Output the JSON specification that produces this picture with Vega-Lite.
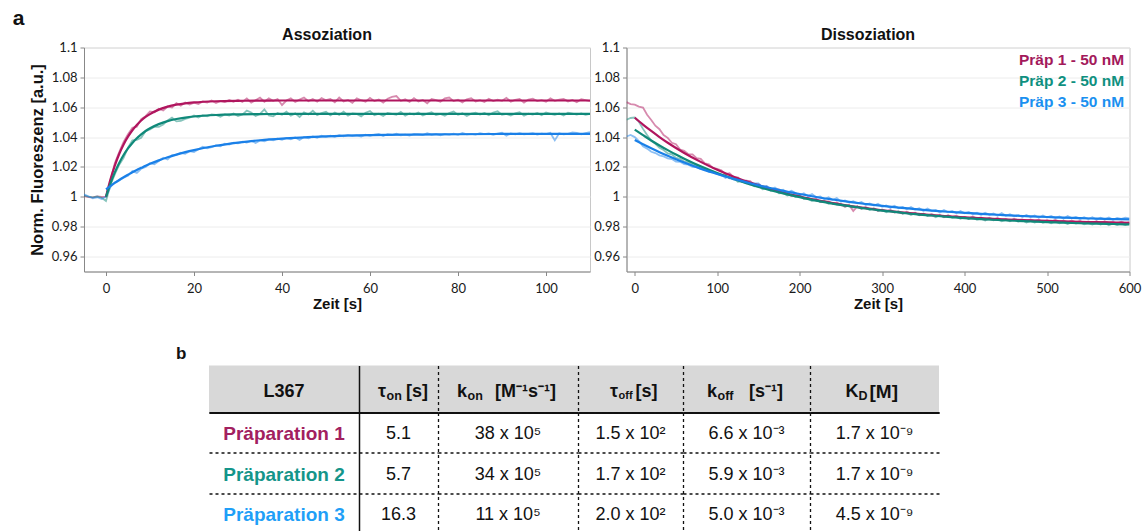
{
"$schema": "https://vega.github.io/schema/vega-lite/v6.json",
"background": "white",
"padding": {"left": 12, "top": 7.5, "right": 0, "bottom": -3},
"config": {
  "font": "Liberation Sans",
  "view": {"stroke": "#c8c8c8"},
  "axis": {"labelFont": "Lato", "labelFontSize": 13, "labelColor": "#1a1a1a", "titleFont": "Liberation Sans", "titleFontWeight": "bold", "titleColor": "#111111", "domainColor": "#888888", "tickColor": "#888888", "tickSize": 4, "gridColor": "#ececec", "labelPadding": 3},
  "axisX": {"labelPadding": 6.5, "titlePadding": 1, "titleFontSize": 15, "labelFlush": false},
  "axisY": {"titlePadding": 6, "titleFontSize": 16.5},
  "title": {"font": "Liberation Sans", "fontSize": 16, "fontWeight": "bold", "color": "#111111", "offset": -1.7}
},
"datasets": {
  "series": [{"k":"a","name":"Präp 1 - 50 nM"},{"k":"b","name":"Präp 2 - 50 nM"},{"k":"c","name":"Präp 3 - 50 nM"}],
  "ar": [
    {"t":-5,"a":1.0005,"b":1.0008,"c":1.0016},{"t":-4,"a":0.9998,"b":1.0001,"c":1.0004},{"t":-3,"a":0.9996,"b":0.9997,"c":0.9990},{"t":-2,"a":1.0003,"b":1.0002,"c":0.9997},{"t":-1,"a":0.9999,"b":0.9994,"c":0.9986},{"t":0,"a":1.0001,"b":0.9972,"c":1.0002},
    {"t":1,"a":1.0105,"b":1.0078,"c":1.0065},{"t":2,"a":1.0225,"b":1.0150,"c":1.0098},{"t":3,"a":1.0300,"b":1.0215,"c":1.0110},{"t":4,"a":1.0368,"b":1.0262,"c":1.0128},{"t":5,"a":1.0420,"b":1.0330,"c":1.0141},{"t":6,"a":1.0462,"b":1.0378,"c":1.0172},{"t":7,"a":1.0470,"b":1.0382,"c":1.0160},{"t":8,"a":1.0521,"b":1.0395,"c":1.0188},{"t":9,"a":1.0540,"b":1.0440,"c":1.0200},{"t":10,"a":1.0572,"b":1.0452,"c":1.0225},
    {"t":11,"a":1.0566,"b":1.0470,"c":1.0218},{"t":12,"a":1.0590,"b":1.0468,"c":1.0240},{"t":13,"a":1.0578,"b":1.0485,"c":1.0262},{"t":14,"a":1.0605,"b":1.0512,"c":1.0250},{"t":15,"a":1.0598,"b":1.0530,"c":1.0279},{"t":16,"a":1.0628,"b":1.0505,"c":1.0281},{"t":17,"a":1.0610,"b":1.0508,"c":1.0295},{"t":18,"a":1.0632,"b":1.0522,"c":1.0288},{"t":19,"a":1.0618,"b":1.0530,"c":1.0306},{"t":20,"a":1.0630,"b":1.0545,"c":1.0300},
    {"t":21,"a":1.0622,"b":1.0532,"c":1.0318},{"t":22,"a":1.0638,"b":1.0546,"c":1.0335},{"t":23,"a":1.0631,"b":1.0540,"c":1.0325},{"t":24,"a":1.0645,"b":1.0552,"c":1.0332},{"t":25,"a":1.0628,"b":1.0548,"c":1.0345},{"t":26,"a":1.0642,"b":1.0536,"c":1.0339},{"t":27,"a":1.0635,"b":1.0552,"c":1.0356},{"t":28,"a":1.0648,"b":1.0545,"c":1.0350},{"t":29,"a":1.0637,"b":1.0558,"c":1.0362},{"t":30,"a":1.0650,"b":1.0541,"c":1.0358},
    {"t":31,"a":1.0635,"b":1.0551,"c":1.0370},{"t":32,"a":1.0659,"b":1.0577,"c":1.0364},{"t":33,"a":1.0631,"b":1.0565,"c":1.0376},{"t":34,"a":1.0647,"b":1.0541,"c":1.0360},{"t":35,"a":1.0665,"b":1.0555,"c":1.0378},{"t":36,"a":1.0637,"b":1.0585,"c":1.0372},{"t":37,"a":1.0659,"b":1.0545,"c":1.0385},{"t":38,"a":1.0643,"b":1.0539,"c":1.0378},{"t":39,"a":1.0655,"b":1.0561,"c":1.0390},{"t":40,"a":1.0615,"b":1.0549,"c":1.0382},
    {"t":41,"a":1.0645,"b":1.0571,"c":1.0395},{"t":42,"a":1.0659,"b":1.0543,"c":1.0386},{"t":43,"a":1.0635,"b":1.0559,"c":1.0398},{"t":44,"a":1.0651,"b":1.0535,"c":1.0381},{"t":45,"a":1.0665,"b":1.0565,"c":1.0400},{"t":46,"a":1.0641,"b":1.0551,"c":1.0392},{"t":47,"a":1.0655,"b":1.0577,"c":1.0405},{"t":48,"a":1.0637,"b":1.0547,"c":1.0396},{"t":49,"a":1.0661,"b":1.0561,"c":1.0409},{"t":50,"a":1.0647,"b":1.0569,"c":1.0402},
    {"t":51,"a":1.0655,"b":1.0545,"c":1.0410},{"t":52,"a":1.0633,"b":1.0565,"c":1.0402},{"t":53,"a":1.0665,"b":1.0549,"c":1.0413},{"t":54,"a":1.0639,"b":1.0571,"c":1.0405},{"t":55,"a":1.0649,"b":1.0543,"c":1.0415},{"t":56,"a":1.0629,"b":1.0559,"c":1.0407},{"t":57,"a":1.0659,"b":1.0555,"c":1.0412},{"t":58,"a":1.0647,"b":1.0539,"c":1.0404},{"t":59,"a":1.0637,"b":1.0563,"c":1.0416},{"t":60,"a":1.0663,"b":1.0575,"c":1.0408},
    {"t":61,"a":1.0641,"b":1.0547,"c":1.0417},{"t":62,"a":1.0651,"b":1.0557,"c":1.0421},{"t":63,"a":1.0631,"b":1.0541,"c":1.0407},{"t":64,"a":1.0657,"b":1.0561,"c":1.0419},{"t":65,"a":1.0669,"b":1.0555,"c":1.0414},{"t":66,"a":1.0675,"b":1.0549,"c":1.0422},{"t":67,"a":1.0643,"b":1.0569,"c":1.0412},{"t":68,"a":1.0653,"b":1.0543,"c":1.0417},{"t":69,"a":1.0635,"b":1.0559,"c":1.0410},{"t":70,"a":1.0661,"b":1.0551,"c":1.0421},
    {"t":71,"a":1.0639,"b":1.0565,"c":1.0419},{"t":72,"a":1.0649,"b":1.0545,"c":1.0414},{"t":73,"a":1.0627,"b":1.0557,"c":1.0426},{"t":74,"a":1.0655,"b":1.0567,"c":1.0416},{"t":75,"a":1.0647,"b":1.0547,"c":1.0421},{"t":76,"a":1.0637,"b":1.0555,"c":1.0412},{"t":77,"a":1.0659,"b":1.0543,"c":1.0422},{"t":78,"a":1.0665,"b":1.0561,"c":1.0417},{"t":79,"a":1.0641,"b":1.0571,"c":1.0423},{"t":80,"a":1.0651,"b":1.0549,"c":1.0415},
    {"t":81,"a":1.0633,"b":1.0559,"c":1.0428},{"t":82,"a":1.0653,"b":1.0541,"c":1.0419},{"t":83,"a":1.0661,"b":1.0557,"c":1.0422},{"t":84,"a":1.0639,"b":1.0563,"c":1.0417},{"t":85,"a":1.0647,"b":1.0551,"c":1.0427},{"t":86,"a":1.0635,"b":1.0561,"c":1.0420},{"t":87,"a":1.0657,"b":1.0547,"c":1.0424},{"t":88,"a":1.0641,"b":1.0565,"c":1.0416},{"t":89,"a":1.0651,"b":1.0573,"c":1.0423},{"t":90,"a":1.0643,"b":1.0549,"c":1.0429},
    {"t":91,"a":1.0663,"b":1.0555,"c":1.0409},{"t":92,"a":1.0637,"b":1.0545,"c":1.0425},{"t":93,"a":1.0649,"b":1.0559,"c":1.0419},{"t":94,"a":1.0655,"b":1.0567,"c":1.0427},{"t":95,"a":1.0631,"b":1.0543,"c":1.0418},{"t":96,"a":1.0651,"b":1.0557,"c":1.0422},{"t":97,"a":1.0657,"b":1.0551,"c":1.0426},{"t":98,"a":1.0641,"b":1.0561,"c":1.0417},{"t":99,"a":1.0647,"b":1.0547,"c":1.0423},{"t":100,"a":1.0637,"b":1.0565,"c":1.0420},
    {"t":101,"a":1.0659,"b":1.0555,"c":1.0428},{"t":102,"a":1.0643,"b":1.0549,"c":1.0378},{"t":103,"a":1.0651,"b":1.0559,"c":1.0425},{"t":104,"a":1.0655,"b":1.0545,"c":1.0419},{"t":105,"a":1.0639,"b":1.0563,"c":1.0422},{"t":106,"a":1.0649,"b":1.0557,"c":1.0431},{"t":107,"a":1.0633,"b":1.0551,"c":1.0429},{"t":108,"a":1.0653,"b":1.0559,"c":1.0418},{"t":109,"a":1.0647,"b":1.0549,"c":1.0426},{"t":110,"a":1.0641,"b":1.0555,"c":1.0433}
  ],
  "af": [
    {"t":0,"a":1.0000,"b":1.0000,"c":1.0050},{"t":1,"a":1.0115,"b":1.0089,"c":1.0072},{"t":2,"a":1.0209,"b":1.0164,"c":1.0093},{"t":3,"a":1.0287,"b":1.0227,"c":1.0113},{"t":4,"a":1.0351,"b":1.0280,"c":1.0131},{"t":5,"a":1.0403,"b":1.0324,"c":1.0148},{"t":6,"a":1.0446,"b":1.0361,"c":1.0165},{"t":7,"a":1.0481,"b":1.0392,"c":1.0180},{"t":8,"a":1.0511,"b":1.0418,"c":1.0194},{"t":9,"a":1.0535,"b":1.0441,"c":1.0208},{"t":10,"a":1.0554,"b":1.0459,"c":1.0221},
    {"t":12,"a":1.0584,"b":1.0487,"c":1.0244},{"t":14,"a":1.0604,"b":1.0507,"c":1.0265},{"t":16,"a":1.0617,"b":1.0521,"c":1.0283},{"t":18,"a":1.0626,"b":1.0531,"c":1.0299},{"t":20,"a":1.0632,"b":1.0538,"c":1.0313},{"t":25,"a":1.0640,"b":1.0548,"c":1.0342},{"t":30,"a":1.0643,"b":1.0552,"c":1.0363},{"t":35,"a":1.0644,"b":1.0554,"c":1.0379},{"t":40,"a":1.0645,"b":1.0555,"c":1.0390},{"t":45,"a":1.0645,"b":1.0555,"c":1.0398},{"t":50,"a":1.0645,"b":1.0555,"c":1.0405},
    {"t":60,"a":1.0645,"b":1.0555,"c":1.0413},{"t":70,"a":1.0645,"b":1.0555,"c":1.0417},{"t":80,"a":1.0645,"b":1.0555,"c":1.0419},{"t":90,"a":1.0645,"b":1.0555,"c":1.0421},{"t":100,"a":1.0645,"b":1.0555,"c":1.0421},{"t":110,"a":1.0645,"b":1.0555,"c":1.0422}
  ],
  "dr": [
    {"t":-10,"a":1.0634,"b":1.0516,"c":1.0404},{"t":-5,"a":1.0621,"b":1.0528,"c":1.0414},{"t":0,"a":1.0617,"b":1.0531,"c":1.0400},{"t":5,"a":1.0604,"b":1.0503,"c":1.0374},{"t":10,"a":1.0598,"b":1.0455,"c":1.0338},{"t":15,"a":1.0550,"b":1.0414,"c":1.0323},{"t":20,"a":1.0515,"b":1.0375,"c":1.0302},{"t":25,"a":1.0476,"b":1.0355,"c":1.0293},{"t":30,"a":1.0453,"b":1.0328,"c":1.0278},{"t":35,"a":1.0414,"b":1.0314,"c":1.0271},{"t":40,"a":1.0395,"b":1.0291,"c":1.0258},{"t":45,"a":1.0362,"b":1.0284,"c":1.0253},{"t":50,"a":1.0352,"b":1.0261,"c":1.0236},{"t":55,"a":1.0317,"b":1.0255,"c":1.0235},{"t":60,"a":1.0309,"b":1.0236,"c":1.0219},{"t":65,"a":1.0286,"b":1.0231,"c":1.0215},{"t":70,"a":1.0284,"b":1.0214,"c":1.0201},{"t":75,"a":1.0259,"b":1.0210,"c":1.0199},{"t":80,"a":1.0254,"b":1.0192,"c":1.0186},{"t":85,"a":1.0224,"b":1.0189,"c":1.0183},{"t":90,"a":1.0218,"b":1.0172,"c":1.0168},{"t":95,"a":1.0192,"b":1.0169,"c":1.0166},{"t":100,"a":1.0188,"b":1.0155,"c":1.0152},
    {"t":105,"a":1.0177,"b":1.0142,"c":1.0149},{"t":110,"a":1.0152,"b":1.0147,"c":1.0127},{"t":115,"a":1.0158,"b":1.0124,"c":1.0138},{"t":120,"a":1.0132,"b":1.0126,"c":1.0114},{"t":125,"a":1.0131,"b":1.0101,"c":1.0125},{"t":130,"a":1.0105,"b":1.0105,"c":1.0101},{"t":135,"a":1.0109,"b":1.0090,"c":1.0108},{"t":140,"a":1.0106,"b":1.0091,"c":1.0084},{"t":145,"a":1.0080,"b":1.0070,"c":1.0090},{"t":150,"a":1.0084,"b":1.0077,"c":1.0090},
    {"t":155,"a":1.0066,"b":1.0051,"c":1.0065},{"t":160,"a":1.0069,"b":1.0055,"c":1.0072},{"t":165,"a":1.0044,"b":1.0041,"c":1.0049},{"t":170,"a":1.0049,"b":1.0045,"c":1.0062},{"t":175,"a":1.0049,"b":1.0023,"c":1.0042},{"t":180,"a":1.0025,"b":1.0026,"c":1.0047},{"t":185,"a":1.0028,"b":1.0008,"c":1.0028},{"t":190,"a":1.0005,"b":1.0016,"c":1.0041},{"t":195,"a":1.0011,"b":0.9999,"c":1.0025},{"t":200,"a":1.0010,"b":1.0005,"c":1.0011},
    {"t":205,"a":0.9989,"b":0.9987,"c":1.0024},{"t":210,"a":0.9994,"b":0.9988,"c":1.0005},{"t":215,"a":0.9981,"b":0.9972,"c":1.0018},{"t":220,"a":0.9988,"b":0.9980,"c":0.9997},{"t":225,"a":0.9965,"b":0.9967,"c":1.0003},{"t":230,"a":0.9970,"b":0.9973,"c":0.9984},{"t":235,"a":0.9970,"b":0.9954,"c":0.9997},{"t":240,"a":0.9953,"b":0.9959,"c":0.9979},{"t":245,"a":0.9962,"b":0.9948,"c":0.9992},{"t":250,"a":0.9946,"b":0.9954,"c":0.9968},
    {"t":255,"a":0.9933,"b":0.9935,"c":0.9975},{"t":260,"a":0.9946,"b":0.9941,"c":0.9962},{"t":265,"a":0.9905,"b":0.9929,"c":0.9971},{"t":270,"a":0.9936,"b":0.9936,"c":0.9957},{"t":275,"a":0.9922,"b":0.9918,"c":0.9965},{"t":280,"a":0.9932,"b":0.9926,"c":0.9946},{"t":285,"a":0.9917,"b":0.9912,"c":0.9956},{"t":290,"a":0.9922,"b":0.9922,"c":0.9942},{"t":295,"a":0.9905,"b":0.9907,"c":0.9954},{"t":300,"a":0.9916,"b":0.9911,"c":0.9934},
    {"t":305,"a":0.9903,"b":0.9896,"c":0.9942},{"t":310,"a":0.9913,"b":0.9907,"c":0.9926},{"t":315,"a":0.9895,"b":0.9896,"c":0.9940},{"t":320,"a":0.9901,"b":0.9904,"c":0.9924},{"t":325,"a":0.9888,"b":0.9887,"c":0.9932},{"t":330,"a":0.9900,"b":0.9893,"c":0.9917},{"t":335,"a":0.9888,"b":0.9879,"c":0.9931},{"t":340,"a":0.9893,"b":0.9890,"c":0.9915},{"t":345,"a":0.9876,"b":0.9878,"c":0.9924},{"t":350,"a":0.9887,"b":0.9887,"c":0.9906},
    {"t":355,"a":0.9875,"b":0.9871,"c":0.9921},{"t":360,"a":0.9885,"b":0.9878,"c":0.9906},{"t":365,"a":0.9873,"b":0.9864,"c":0.9912},{"t":370,"a":0.9879,"b":0.9876,"c":0.9896},{"t":375,"a":0.9864,"b":0.9865,"c":0.9911},{"t":380,"a":0.9876,"b":0.9874,"c":0.9896},{"t":385,"a":0.9864,"b":0.9859,"c":0.9905},{"t":390,"a":0.9874,"b":0.9866,"c":0.9890},{"t":395,"a":0.9859,"b":0.9853,"c":0.9905},{"t":400,"a":0.9866,"b":0.9864,"c":0.9890},
    {"t":405,"a":0.9854,"b":0.9852,"c":0.9899},{"t":410,"a":0.9869,"b":0.9862,"c":0.9884},{"t":415,"a":0.9855,"b":0.9846,"c":0.9893},{"t":420,"a":0.9862,"b":0.9854,"c":0.9879},{"t":425,"a":0.9847,"b":0.9841,"c":0.9893},{"t":430,"a":0.9860,"b":0.9853,"c":0.9879},{"t":435,"a":0.9848,"b":0.9843,"c":0.9888},{"t":440,"a":0.9858,"b":0.9851,"c":0.9874},{"t":445,"a":0.9845,"b":0.9837,"c":0.9892},{"t":450,"a":0.9852,"b":0.9846,"c":0.9873},
    {"t":455,"a":0.9840,"b":0.9836,"c":0.9883},{"t":460,"a":0.9854,"b":0.9848,"c":0.9869},{"t":465,"a":0.9842,"b":0.9834,"c":0.9879},{"t":470,"a":0.9849,"b":0.9843,"c":0.9865},{"t":475,"a":0.9837,"b":0.9828,"c":0.9879},{"t":480,"a":0.9849,"b":0.9838,"c":0.9865},{"t":485,"a":0.9837,"b":0.9828,"c":0.9875},{"t":490,"a":0.9846,"b":0.9839,"c":0.9860},{"t":495,"a":0.9831,"b":0.9827,"c":0.9875},{"t":500,"a":0.9843,"b":0.9836,"c":0.9862},
    {"t":505,"a":0.9833,"b":0.9823,"c":0.9872},{"t":510,"a":0.9846,"b":0.9835,"c":0.9858},{"t":515,"a":0.9833,"b":0.9823,"c":0.9868},{"t":520,"a":0.9840,"b":0.9831,"c":0.9854},{"t":525,"a":0.9829,"b":0.9818,"c":0.9872},{"t":530,"a":0.9841,"b":0.9830,"c":0.9856},{"t":535,"a":0.9829,"b":0.9821,"c":0.9865},{"t":540,"a":0.9839,"b":0.9829,"c":0.9852},{"t":545,"a":0.9825,"b":0.9816,"c":0.9864},{"t":550,"a":0.9835,"b":0.9824,"c":0.9851},
    {"t":555,"a":0.9828,"b":0.9814,"c":0.9864},{"t":560,"a":0.9836,"b":0.9825,"c":0.9848},{"t":565,"a":0.9824,"b":0.9815,"c":0.9860},{"t":570,"a":0.9837,"b":0.9825,"c":0.9849},{"t":575,"a":0.9824,"b":0.9810,"c":0.9861},{"t":580,"a":0.9833,"b":0.9822,"c":0.9846},{"t":585,"a":0.9821,"b":0.9811,"c":0.9858},{"t":590,"a":0.9834,"b":0.9822,"c":0.9853},{"t":595,"a":0.9823,"b":0.9811,"c":0.9861},{"t":600,"a":0.9830,"b":0.9820,"c":0.9855}
  ],
  "df": [
    {"t":0,"a":1.0530,"b":1.0450,"c":1.0380},{"t":10,"a":1.0484,"b":1.0413,"c":1.0352},{"t":20,"a":1.0441,"b":1.0377,"c":1.0325},{"t":30,"a":1.0400,"b":1.0344,"c":1.0299},{"t":40,"a":1.0362,"b":1.0313,"c":1.0275},{"t":50,"a":1.0327,"b":1.0283,"c":1.0252},{"t":60,"a":1.0294,"b":1.0255,"c":1.0230},{"t":80,"a":1.0234,"b":1.0204,"c":1.0189},{"t":100,"a":1.0181,"b":1.0159,"c":1.0153},{"t":120,"a":1.0135,"b":1.0119,"c":1.0120},
    {"t":140,"a":1.0095,"b":1.0083,"c":1.0091},{"t":160,"a":1.0060,"b":1.0051,"c":1.0064},{"t":180,"a":1.0029,"b":1.0023,"c":1.0040},{"t":200,"a":1.0002,"b":0.9998,"c":1.0019},{"t":220,"a":0.9978,"b":0.9975,"c":0.9999},{"t":240,"a":0.9958,"b":0.9955,"c":0.9982},{"t":260,"a":0.9940,"b":0.9938,"c":0.9966},{"t":280,"a":0.9924,"b":0.9922,"c":0.9952},{"t":300,"a":0.9910,"b":0.9908,"c":0.9939},{"t":320,"a":0.9898,"b":0.9896,"c":0.9928},
    {"t":340,"a":0.9887,"b":0.9884,"c":0.9918},{"t":360,"a":0.9878,"b":0.9875,"c":0.9908},{"t":380,"a":0.9870,"b":0.9866,"c":0.9900},{"t":400,"a":0.9863,"b":0.9858,"c":0.9893},{"t":420,"a":0.9857,"b":0.9851,"c":0.9886},{"t":440,"a":0.9851,"b":0.9845,"c":0.9880},{"t":460,"a":0.9846,"b":0.9840,"c":0.9874},{"t":480,"a":0.9842,"b":0.9835,"c":0.9869},{"t":500,"a":0.9839,"b":0.9831,"c":0.9865},{"t":520,"a":0.9835,"b":0.9827,"c":0.9861},
    {"t":540,"a":0.9833,"b":0.9823,"c":0.9857},{"t":560,"a":0.9830,"b":0.9820,"c":0.9854},{"t":580,"a":0.9828,"b":0.9818,"c":0.9851},{"t":600,"a":0.9826,"b":0.9815,"c":0.9849}
  ],
  "hdr": [
    {"c":"L367","p":"a","txt":"L367"},
    {"c":"ton","p":"a","txt":"τ"},{"c":"ton","p":"b","txt":"on"},{"c":"ton","p":"c","txt":"[s]"},
    {"c":"kon","p":"a","txt":"k"},{"c":"kon","p":"b","txt":"on"},{"c":"kon","p":"c","txt":"[M⁻¹s⁻¹]"},
    {"c":"toff","p":"a","txt":"τ"},{"c":"toff","p":"b","txt":"off"},{"c":"toff","p":"c","txt":"[s]"},
    {"c":"koff","p":"a","txt":"k"},{"c":"koff","p":"b","txt":"off"},{"c":"koff","p":"c","txt":"[s⁻¹]"},
    {"c":"KD","p":"a","txt":"K"},{"c":"KD","p":"b","txt":"D"},{"c":"KD","p":"c","txt":"[M]"}
  ],
  "cells": [
    {"r":"1","c":"L367","v":"Präparation 1"},{"r":"1","c":"ton","v":"5.1"},{"r":"1","c":"kon","v":"38 x 10⁵"},{"r":"1","c":"toff","v":"1.5 x 10²"},{"r":"1","c":"koff","v":"6.6 x 10⁻³"},{"r":"1","c":"KD","v":"1.7 x 10⁻⁹"},
    {"r":"2","c":"L367","v":"Präparation 2"},{"r":"2","c":"ton","v":"5.7"},{"r":"2","c":"kon","v":"34 x 10⁵"},{"r":"2","c":"toff","v":"1.7 x 10²"},{"r":"2","c":"koff","v":"5.9 x 10⁻³"},{"r":"2","c":"KD","v":"1.7 x 10⁻⁹"},
    {"r":"3","c":"L367","v":"Präparation 3"},{"r":"3","c":"ton","v":"16.3"},{"r":"3","c":"kon","v":"11 x 10⁵"},{"r":"3","c":"toff","v":"2.0 x 10²"},{"r":"3","c":"koff","v":"5.0 x 10⁻³"},{"r":"3","c":"KD","v":"4.5 x 10⁻⁹"}
  ]
},
"spacing": 33,
"resolve": {"scale": {"color": "independent"}},
"vconcat": [
  {
    "title": {"text": "a", "anchor": "start", "fontSize": 21, "fontWeight": "bold", "dx": -16, "offset": -2.4},
    "spacing": 1.5,
    "resolve": {"scale": {"color": "independent"}},
    "hconcat": [
      {
        "width": 506, "height": 224,
        "title": {"text": "Assoziation", "dx": -10},
        "encoding": {
          "x": {"field": "t", "type": "quantitative", "scale": {"domain": [-5, 110], "nice": false, "zero": false}, "axis": {"title": "Zeit [s]", "values": [0, 20, 40, 60, 80, 100], "grid": false}},
          "y": {"field": "y", "type": "quantitative", "scale": {"domain": [0.95, 1.1], "nice": false, "zero": false}, "axis": {"title": "Norm. Fluoreszenz [a.u.]", "values": [0.96, 0.98, 1, 1.02, 1.04, 1.06, 1.08, 1.1], "format": ".2~f"}},
          "color": {"field": "name", "type": "nominal", "scale": {"domain": ["Präp 1 - 50 nM", "Präp 2 - 50 nM", "Präp 3 - 50 nM"], "range": ["#b0155e", "#10897a", "#1a80e8"]}, "legend": null}
        },
        "layer": [
          {"data": {"name": "ar"}, "transform": [{"fold": ["a", "b", "c"], "as": ["k", "y"]}, {"lookup": "k", "from": {"data": {"name": "series"}, "key": "k", "fields": ["name"]}}], "mark": {"type": "line", "strokeWidth": 1.8, "opacity": 0.5, "clip": true}},
          {"data": {"name": "af"}, "transform": [{"fold": ["a", "b", "c"], "as": ["k", "y"]}, {"lookup": "k", "from": {"data": {"name": "series"}, "key": "k", "fields": ["name"]}}], "mark": {"type": "line", "strokeWidth": 2.2, "interpolate": "monotone", "clip": true}}
        ]
      },
      {
        "width": 503, "height": 224,
        "title": {"text": "Dissoziation", "dx": -10},
        "encoding": {
          "x": {"field": "t", "type": "quantitative", "scale": {"domain": [-10, 600], "nice": false, "zero": false}, "axis": {"title": "Zeit [s]", "values": [0, 100, 200, 300, 400, 500, 600], "grid": false}},
          "y": {"field": "y", "type": "quantitative", "scale": {"domain": [0.95, 1.1], "nice": false, "zero": false}, "axis": {"title": null, "values": [0.96, 0.98, 1, 1.02, 1.04, 1.06, 1.08, 1.1], "format": ".2~f"}},
          "color": {"field": "name", "type": "nominal", "scale": {"domain": ["Präp 1 - 50 nM", "Präp 2 - 50 nM", "Präp 3 - 50 nM"], "range": ["#b0155e", "#10897a", "#1a80e8"]},
            "legend": {"orient": "top-right", "title": null, "offset": 5, "padding": 0, "labelFont": "Liberation Sans", "labelFontSize": 15.5, "labelFontWeight": "bold", "symbolOpacity": 0, "symbolSize": 0, "symbolStrokeWidth": 0, "labelOffset": 0, "rowPadding": 4, "labelLimit": 400,
              "encode": {"labels": {"update": {"fill": {"signal": "datum.value == 'Präp 1 - 50 nM' ? '#a3195b' : datum.value == 'Präp 2 - 50 nM' ? '#0f9080' : '#1a90f0'"}}}}}}
        },
        "layer": [
          {"data": {"name": "dr"}, "transform": [{"fold": ["a", "b", "c"], "as": ["k", "y"]}, {"lookup": "k", "from": {"data": {"name": "series"}, "key": "k", "fields": ["name"]}}], "mark": {"type": "line", "strokeWidth": 1.8, "opacity": 0.5, "clip": true}},
          {"data": {"name": "df"}, "transform": [{"fold": ["a", "b", "c"], "as": ["k", "y"]}, {"lookup": "k", "from": {"data": {"name": "series"}, "key": "k", "fields": ["name"]}}], "mark": {"type": "line", "strokeWidth": 2.2, "interpolate": "monotone", "clip": true}}
        ]
      }
    ]
  },
  {
    "spacing": 0,
    "hconcat": [
      {"width": 92, "height": 10, "view": {"stroke": null}, "data": {"values": [{}]}, "mark": {"type": "point", "opacity": 0}, "encoding": {}},
      {
        "title": {"text": "b", "anchor": "start", "dx": -33, "fontSize": 17, "fontWeight": "bold", "offset": 2.5},
        "spacing": 0,
        "vconcat": [
          {
            "bounds": "flush",
            "spacing": 0,
            "hconcat": [
              {
                "width": 150, "height": 47, "view": {"fill": "#d8d8d8", "stroke": null},
                "data": {"name": "hdr"}, "transform": [{"filter": "datum.c == 'L367'"}],
                "mark": {"type": "text", "fontSize": 18, "fontWeight": "bold", "font": "Liberation Sans", "color": "#111111", "dy": 3},
                "encoding": {
                  "x": {"field": "c", "type": "nominal", "scale": {"paddingInner": 0, "paddingOuter": 0}, "axis": {"orient": "bottom", "labels": false, "ticks": false, "title": null, "grid": false, "domain": true, "domainColor": "#111111", "domainWidth": 2.2}},
                  "text": {"field": "txt"}
                }
              },
              {
                "width": 79, "height": 47, "view": {"fill": "#d8d8d8", "stroke": null},
                "data": {"name": "hdr"}, "transform": [{"filter": "datum.c == 'ton'"}],
                "encoding": {
                  "x": {"field": "c", "type": "nominal", "scale": {"paddingInner": 0, "paddingOuter": 0}, "axis": {"orient": "bottom", "labels": false, "ticks": false, "title": null, "grid": false, "domain": true, "domainColor": "#111111", "domainWidth": 2.2}},
                  "y": {"field": "c", "type": "nominal", "scale": {"paddingInner": 0, "paddingOuter": 0}, "axis": {"orient": "left", "labels": false, "ticks": false, "title": null, "grid": false, "domain": true, "domainColor": "#111111", "domainWidth": 1.5}},
                  "text": {"field": "txt"}
                },
                "layer": [
                  {"transform": [{"filter": "datum.p == 'a'"}], "mark": {"type": "text", "align": "right", "dx": -12.5, "dy": 3, "fontSize": 18, "fontWeight": "bold", "font": "Liberation Sans", "color": "#111111"}},
                  {"transform": [{"filter": "datum.p == 'b'"}], "mark": {"type": "text", "align": "left", "dx": -12, "dy": 7, "fontSize": 12.5, "fontWeight": "bold", "font": "Liberation Sans", "color": "#111111"}},
                  {"transform": [{"filter": "datum.p == 'c'"}], "mark": {"type": "text", "align": "left", "dx": 7.5, "dy": 3, "fontSize": 18, "fontWeight": "bold", "font": "Liberation Sans", "color": "#111111"}}
                ]
              },
              {
                "width": 140, "height": 47, "view": {"fill": "#d8d8d8", "stroke": null},
                "data": {"name": "hdr"}, "transform": [{"filter": "datum.c == 'kon'"}],
                "encoding": {
                  "x": {"field": "c", "type": "nominal", "scale": {"paddingInner": 0, "paddingOuter": 0}, "axis": {"orient": "bottom", "labels": false, "ticks": false, "title": null, "grid": false, "domain": true, "domainColor": "#111111", "domainWidth": 2.2}},
                  "y": {"field": "c", "type": "nominal", "scale": {"paddingInner": 0, "paddingOuter": 0}, "axis": {"orient": "left", "labels": false, "ticks": false, "title": null, "grid": false, "domain": true, "domainColor": "#111111", "domainWidth": 1.3, "domainDash": [3, 3]}},
                  "text": {"field": "txt"}
                },
                "layer": [
                  {"transform": [{"filter": "datum.p == 'a'"}], "mark": {"type": "text", "align": "right", "dx": -41, "dy": 3, "fontSize": 18, "fontWeight": "bold", "font": "Liberation Sans", "color": "#111111"}},
                  {"transform": [{"filter": "datum.p == 'b'"}], "mark": {"type": "text", "align": "left", "dx": -40.5, "dy": 7, "fontSize": 12.5, "fontWeight": "bold", "font": "Liberation Sans", "color": "#111111"}},
                  {"transform": [{"filter": "datum.p == 'c'"}], "mark": {"type": "text", "align": "left", "dx": -13, "dy": 3, "fontSize": 18, "fontWeight": "bold", "font": "Liberation Sans", "color": "#111111"}}
                ]
              },
              {
                "width": 105, "height": 47, "view": {"fill": "#d8d8d8", "stroke": null},
                "data": {"name": "hdr"}, "transform": [{"filter": "datum.c == 'toff'"}],
                "encoding": {
                  "x": {"field": "c", "type": "nominal", "scale": {"paddingInner": 0, "paddingOuter": 0}, "axis": {"orient": "bottom", "labels": false, "ticks": false, "title": null, "grid": false, "domain": true, "domainColor": "#111111", "domainWidth": 2.2}},
                  "y": {"field": "c", "type": "nominal", "scale": {"paddingInner": 0, "paddingOuter": 0}, "axis": {"orient": "left", "labels": false, "ticks": false, "title": null, "grid": false, "domain": true, "domainColor": "#111111", "domainWidth": 1.3, "domainDash": [3, 3]}},
                  "text": {"field": "txt"}
                },
                "layer": [
                  {"transform": [{"filter": "datum.p == 'a'"}], "mark": {"type": "text", "align": "right", "dx": -12.5, "dy": 3, "fontSize": 18, "fontWeight": "bold", "font": "Liberation Sans", "color": "#111111"}},
                  {"transform": [{"filter": "datum.p == 'b'"}], "mark": {"type": "text", "align": "left", "dx": -12, "dy": 7, "fontSize": 11, "fontWeight": "bold", "font": "Liberation Sans", "color": "#111111"}},
                  {"transform": [{"filter": "datum.p == 'c'"}], "mark": {"type": "text", "align": "left", "dx": 5, "dy": 3, "fontSize": 18, "fontWeight": "bold", "font": "Liberation Sans", "color": "#111111"}}
                ]
              },
              {
                "width": 127, "height": 47, "view": {"fill": "#d8d8d8", "stroke": null},
                "data": {"name": "hdr"}, "transform": [{"filter": "datum.c == 'koff'"}],
                "encoding": {
                  "x": {"field": "c", "type": "nominal", "scale": {"paddingInner": 0, "paddingOuter": 0}, "axis": {"orient": "bottom", "labels": false, "ticks": false, "title": null, "grid": false, "domain": true, "domainColor": "#111111", "domainWidth": 2.2}},
                  "y": {"field": "c", "type": "nominal", "scale": {"paddingInner": 0, "paddingOuter": 0}, "axis": {"orient": "left", "labels": false, "ticks": false, "title": null, "grid": false, "domain": true, "domainColor": "#111111", "domainWidth": 1.3, "domainDash": [3, 3]}},
                  "text": {"field": "txt"}
                },
                "layer": [
                  {"transform": [{"filter": "datum.p == 'a'"}], "mark": {"type": "text", "align": "right", "dx": -29.5, "dy": 3, "fontSize": 18, "fontWeight": "bold", "font": "Liberation Sans", "color": "#111111"}},
                  {"transform": [{"filter": "datum.p == 'b'"}], "mark": {"type": "text", "align": "left", "dx": -29, "dy": 7, "fontSize": 12.5, "fontWeight": "bold", "font": "Liberation Sans", "color": "#111111"}},
                  {"transform": [{"filter": "datum.p == 'c'"}], "mark": {"type": "text", "align": "left", "dx": 2.5, "dy": 3, "fontSize": 18, "fontWeight": "bold", "font": "Liberation Sans", "color": "#111111"}}
                ]
              },
              {
                "width": 129, "height": 47, "view": {"fill": "#d8d8d8", "stroke": null},
                "data": {"name": "hdr"}, "transform": [{"filter": "datum.c == 'KD'"}],
                "encoding": {
                  "x": {"field": "c", "type": "nominal", "scale": {"paddingInner": 0, "paddingOuter": 0}, "axis": {"orient": "bottom", "labels": false, "ticks": false, "title": null, "grid": false, "domain": true, "domainColor": "#111111", "domainWidth": 2.2}},
                  "y": {"field": "c", "type": "nominal", "scale": {"paddingInner": 0, "paddingOuter": 0}, "axis": {"orient": "left", "labels": false, "ticks": false, "title": null, "grid": false, "domain": true, "domainColor": "#111111", "domainWidth": 1.3, "domainDash": [3, 3]}},
                  "text": {"field": "txt"}
                },
                "layer": [
                  {"transform": [{"filter": "datum.p == 'a'"}], "mark": {"type": "text", "align": "right", "dx": -16, "dy": 3, "fontSize": 18, "fontWeight": "bold", "font": "Liberation Sans", "color": "#111111"}},
                  {"transform": [{"filter": "datum.p == 'b'"}], "mark": {"type": "text", "align": "left", "dx": -16, "dy": 7, "fontSize": 12.5, "fontWeight": "bold", "font": "Liberation Sans", "color": "#111111"}},
                  {"transform": [{"filter": "datum.p == 'c'"}], "mark": {"type": "text", "align": "left", "dx": -5, "dy": 3, "fontSize": 19, "fontWeight": "bold", "font": "Liberation Sans", "color": "#111111"}}
                ]
              }
            ]
          },
          {
            "bounds": "flush",
            "spacing": 0,
            "hconcat": [
              {
                "width": 150, "height": 121, "view": {"stroke": null},
                "data": {"name": "cells"}, "transform": [{"filter": "datum.c == 'L367'"}],
                "mark": {"type": "text", "fontSize": 19, "fontWeight": "bold", "font": "Liberation Sans", "dy": 1.5},
                "encoding": {
                  "y": {"field": "r", "type": "nominal", "scale": {"domain": ["1", "2", "3"], "paddingInner": 0, "paddingOuter": 0}, "axis": {"orient": "left", "domain": false, "labels": false, "ticks": false, "title": null, "grid": true, "gridDash": [3, 3], "gridColor": "#111111", "gridWidth": 1.3, "tickBand": "extent"}},
                  "text": {"field": "v"},
                  "color": {"field": "r", "type": "nominal", "scale": {"domain": ["1", "2", "3"], "range": ["#a2205f", "#14958a", "#1f9ff7"]}, "legend": null}
                }
              },
              {
                "width": 79, "height": 121, "view": {"stroke": null},
                "data": {"name": "cells"}, "transform": [{"filter": "datum.c == 'ton'"}],
                "mark": {"type": "text", "fontSize": 18, "font": "Liberation Sans", "color": "#111111", "dy": 1.5},
                "encoding": {
                  "y": {"field": "r", "type": "nominal", "scale": {"domain": ["1", "2", "3"], "paddingInner": 0, "paddingOuter": 0}, "axis": {"orient": "left", "domain": true, "domainColor": "#111111", "domainWidth": 1.5, "labels": false, "ticks": false, "title": null, "grid": true, "gridDash": [3, 3], "gridColor": "#111111", "gridWidth": 1.3, "tickBand": "extent"}},
                  "text": {"field": "v"}
                }
              },
              {
                "width": 140, "height": 121, "view": {"stroke": null},
                "data": {"name": "cells"}, "transform": [{"filter": "datum.c == 'kon'"}],
                "mark": {"type": "text", "fontSize": 18, "font": "Liberation Sans", "color": "#111111", "dy": 1.5},
                "encoding": {
                  "y": {"field": "r", "type": "nominal", "scale": {"domain": ["1", "2", "3"], "paddingInner": 0, "paddingOuter": 0}, "axis": {"orient": "left", "domain": true, "domainColor": "#111111", "domainWidth": 1.3, "domainDash": [3, 3], "labels": false, "ticks": false, "title": null, "grid": true, "gridDash": [3, 3], "gridColor": "#111111", "gridWidth": 1.3, "tickBand": "extent"}},
                  "text": {"field": "v"}
                }
              },
              {
                "width": 105, "height": 121, "view": {"stroke": null},
                "data": {"name": "cells"}, "transform": [{"filter": "datum.c == 'toff'"}],
                "mark": {"type": "text", "fontSize": 18, "font": "Liberation Sans", "color": "#111111", "dy": 1.5},
                "encoding": {
                  "y": {"field": "r", "type": "nominal", "scale": {"domain": ["1", "2", "3"], "paddingInner": 0, "paddingOuter": 0}, "axis": {"orient": "left", "domain": true, "domainColor": "#111111", "domainWidth": 1.3, "domainDash": [3, 3], "labels": false, "ticks": false, "title": null, "grid": true, "gridDash": [3, 3], "gridColor": "#111111", "gridWidth": 1.3, "tickBand": "extent"}},
                  "text": {"field": "v"}
                }
              },
              {
                "width": 127, "height": 121, "view": {"stroke": null},
                "data": {"name": "cells"}, "transform": [{"filter": "datum.c == 'koff'"}],
                "mark": {"type": "text", "fontSize": 18, "font": "Liberation Sans", "color": "#111111", "dy": 1.5},
                "encoding": {
                  "y": {"field": "r", "type": "nominal", "scale": {"domain": ["1", "2", "3"], "paddingInner": 0, "paddingOuter": 0}, "axis": {"orient": "left", "domain": true, "domainColor": "#111111", "domainWidth": 1.3, "domainDash": [3, 3], "labels": false, "ticks": false, "title": null, "grid": true, "gridDash": [3, 3], "gridColor": "#111111", "gridWidth": 1.3, "tickBand": "extent"}},
                  "text": {"field": "v"}
                }
              },
              {
                "width": 129, "height": 121, "view": {"stroke": null},
                "data": {"name": "cells"}, "transform": [{"filter": "datum.c == 'KD'"}],
                "mark": {"type": "text", "fontSize": 18, "font": "Liberation Sans", "color": "#111111", "dy": 1.5},
                "encoding": {
                  "y": {"field": "r", "type": "nominal", "scale": {"domain": ["1", "2", "3"], "paddingInner": 0, "paddingOuter": 0}, "axis": {"orient": "left", "domain": true, "domainColor": "#111111", "domainWidth": 1.3, "domainDash": [3, 3], "labels": false, "ticks": false, "title": null, "grid": true, "gridDash": [3, 3], "gridColor": "#111111", "gridWidth": 1.3, "tickBand": "extent"}},
                  "text": {"field": "v"}
                }
              }
            ]
          }
        ]
      }
    ]
  }
]
}
